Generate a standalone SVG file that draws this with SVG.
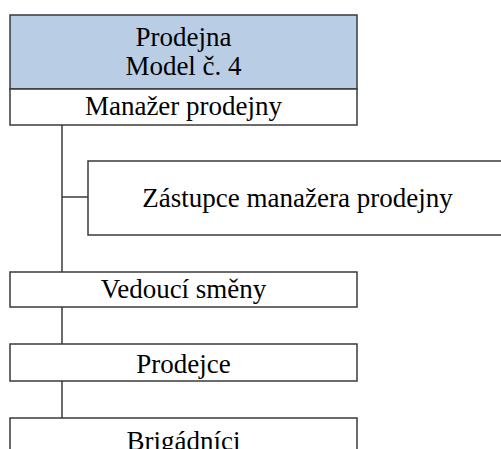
<svg xmlns="http://www.w3.org/2000/svg" width="501" height="449" viewBox="0 0 501 449">
  <style>
    .box { fill: #ffffff; stroke: #3a3a3a; stroke-width: 1.5; }
    .head { fill: #b9cde5; stroke: #3a3a3a; stroke-width: 1.5; }
    .lbl { font-family: "Liberation Serif", "Times New Roman", serif; font-size: 27px; fill: #000; text-anchor: middle; }
    .link { stroke: #3a3a3a; stroke-width: 1.5; fill: none; }
  </style>
  <rect width="501" height="449" fill="#ffffff"/>

  <g id="connectors">
    <path class="link" d="M62 125 V272"/>
    <path class="link" d="M62 197 H88"/>
    <path class="link" d="M62 307 V344"/>
    <path class="link" d="M62 381 V418"/>
  </g>

  <g id="prodejna">
    <rect class="head" x="10" y="15" width="347" height="74"/>
    <text class="lbl" x="183.5" y="46">Prodejna</text>
    <text class="lbl" x="183.5" y="75">Model č. 4</text>
  </g>

  <g id="manazer">
    <rect class="box" x="10" y="89" width="347" height="36"/>
    <text class="lbl" x="183.5" y="115">Manažer prodejny</text>
  </g>

  <g id="zastupce">
    <rect class="box" x="88" y="161" width="420" height="74"/>
    <text class="lbl" x="297.5" y="207">Zástupce manažera prodejny</text>
  </g>

  <g id="vedouci">
    <rect class="box" x="10" y="272" width="347" height="35"/>
    <text class="lbl" x="183.5" y="298">Vedoucí směny</text>
  </g>

  <g id="prodejce">
    <rect class="box" x="10" y="344" width="347" height="37"/>
    <text class="lbl" x="183.5" y="373">Prodejce</text>
  </g>

  <g id="brigadnici">
    <rect class="box" x="10" y="418" width="347" height="60"/>
    <text class="lbl" x="183.5" y="450">Brigádníci</text>
  </g>
</svg>
